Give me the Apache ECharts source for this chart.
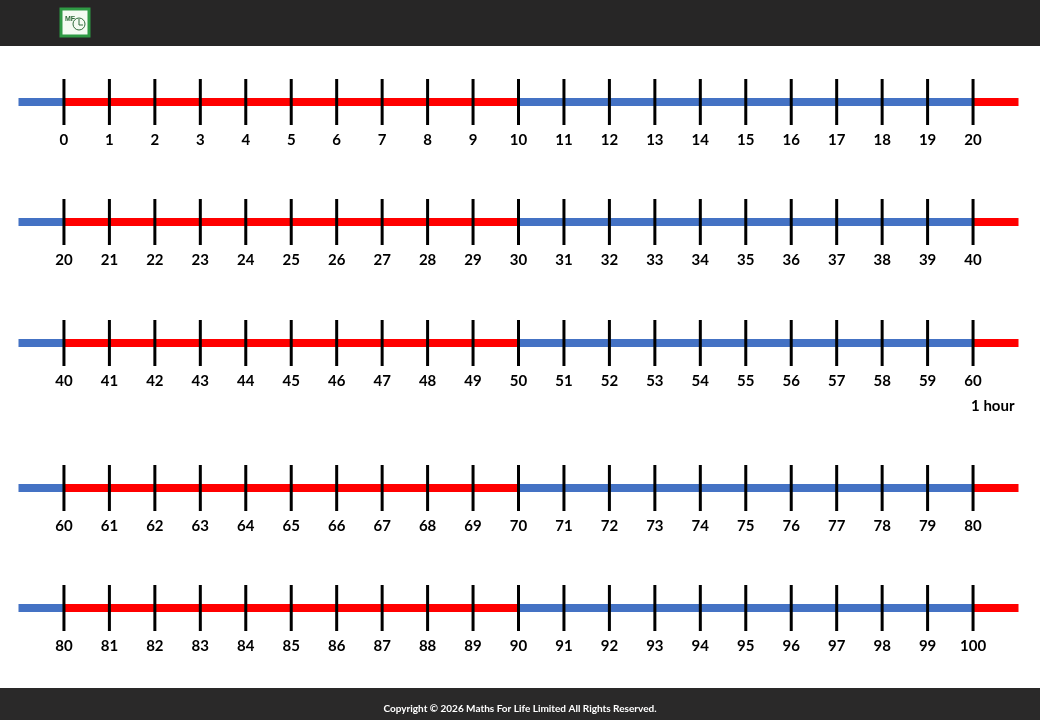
<!DOCTYPE html>
<html>
<head>
<meta charset="utf-8">
<script src="https://cdn.jsdelivr.net/npm/echarts@6/dist/echarts.min.js"></script>
<style>
html,body{margin:0;padding:0;background:#fff;}
#chart{width:1040px;height:720px;}
</style>
</head>
<body>
<div id="chart"></div>
<script>
// ---- data ----
const rowStarts = [0, 20, 40, 60, 80];
const tickOffsets = [0,1,2,3,4,5,6,7,8,9,10,11,12,13,14,15,16,17,18,19,20];
const segmentBreaks = [-1, 0, 10, 20, 21];
const segmentColors = ['#4472C4', '#FF0000', '#4472C4', '#FF0000'];
const extraLabel = { text: '1 hour', row: 2, at: 20 };
const footerText = 'Copyright \u00A9 2026 Maths For Life Limited All Rights Reserved.';

// ---- layout ----
const rowCenters = [102, 222, 343, 488, 608];
const tickLen = 46;
const FONT = 'Lato, "Open Sans", sans-serif';

const chart = echarts.init(document.getElementById('chart'));
const grids = [], xAxes = [], yAxes = [], series = [];

rowStarts.forEach((start, i) => {
  grids.push({ left: 18.5, width: 1000, top: rowCenters[i] - tickLen / 2, height: tickLen });
  xAxes.push({
    type: 'value', gridIndex: i, min: start - 1, max: start + 21, interval: 1,
    axisLine: { show: false }, axisTick: { show: false }, splitLine: { show: false },
    axisLabel: {
      margin: 8, fontFamily: FONT, fontWeight: 'bold', fontSize: 15, color: '#000',
      showMinLabel: true, showMaxLabel: true,
      formatter: v => (v < start || v > start + 20) ? '' : String(v)
    }
  });
  yAxes.push({ type: 'value', gridIndex: i, min: -1, max: 1, show: false });

  for (let s = 0; s < segmentColors.length; s++) {
    series.push({
      type: 'line', xAxisIndex: i, yAxisIndex: i, symbol: 'none', silent: true,
      data: [[start + segmentBreaks[s], 0], [start + segmentBreaks[s + 1], 0]],
      lineStyle: { width: 8, color: segmentColors[s], cap: 'butt' }, z: 2
    });
  }
  series.push({
    type: 'scatter', xAxisIndex: i, yAxisIndex: i, silent: true,
    symbol: 'rect', symbolSize: [3, tickLen],
    itemStyle: { color: '#000', opacity: 1 }, z: 5,
    data: tickOffsets.map(t => [start + t, 0])
  });
});

series.push({
  type: 'scatter', xAxisIndex: extraLabel.row, yAxisIndex: extraLabel.row, silent: true,
  symbolSize: 0, z: 6, itemStyle: { opacity: 1 },
  data: [[rowStarts[extraLabel.row] + extraLabel.at, 0]],
  label: {
    show: true, formatter: extraLabel.text, position: 'inside', align: 'left',
    offset: [-2, 63], fontFamily: FONT, fontWeight: 'bold', fontSize: 15, color: '#000', opacity: 1
  }
});

chart.setOption({
  backgroundColor: '#ffffff',
  animation: false,
  grid: grids, xAxis: xAxes, yAxis: yAxes, series: series,
  graphic: [
    { type: 'rect', left: 0, top: 0, shape: { width: 1040, height: 46 }, style: { fill: '#272626' }, z: 10 },
    { type: 'rect', left: 0, top: 688, shape: { width: 1040, height: 32 }, style: { fill: '#2a2929' }, z: 10 },
    { type: 'rect', x: 61, y: 9, shape: { width: 28, height: 27 }, style: { fill: '#f4fbf2', stroke: '#2f9a44', lineWidth: 3 }, z: 11 },
    { type: 'circle', x: 79, y: 24, shape: { r: 6 }, style: { fill: 'none', stroke: '#2f6a3a', lineWidth: 1 }, z: 12 },
    { type: 'line', shape: { x1: 79, y1: 19, x2: 79, y2: 25 }, style: { stroke: '#2f6a3a', lineWidth: 1 }, z: 12 },
    { type: 'line', shape: { x1: 79, y1: 25, x2: 83, y2: 25 }, style: { stroke: '#2f6a3a', lineWidth: 1 }, z: 12 },
    { type: 'text', x: 65, y: 16, style: { text: 'MF', fill: '#2f6a3a', font: 'bold 7px sans-serif' }, z: 12 },
    { type: 'text', x: 520, y: 709, style: { text: footerText, fill: '#ffffff', font: 'bold 10px ' + FONT, align: 'center', verticalAlign: 'middle' }, z: 11 }
  ]
});
</script>
</body>
</html>
